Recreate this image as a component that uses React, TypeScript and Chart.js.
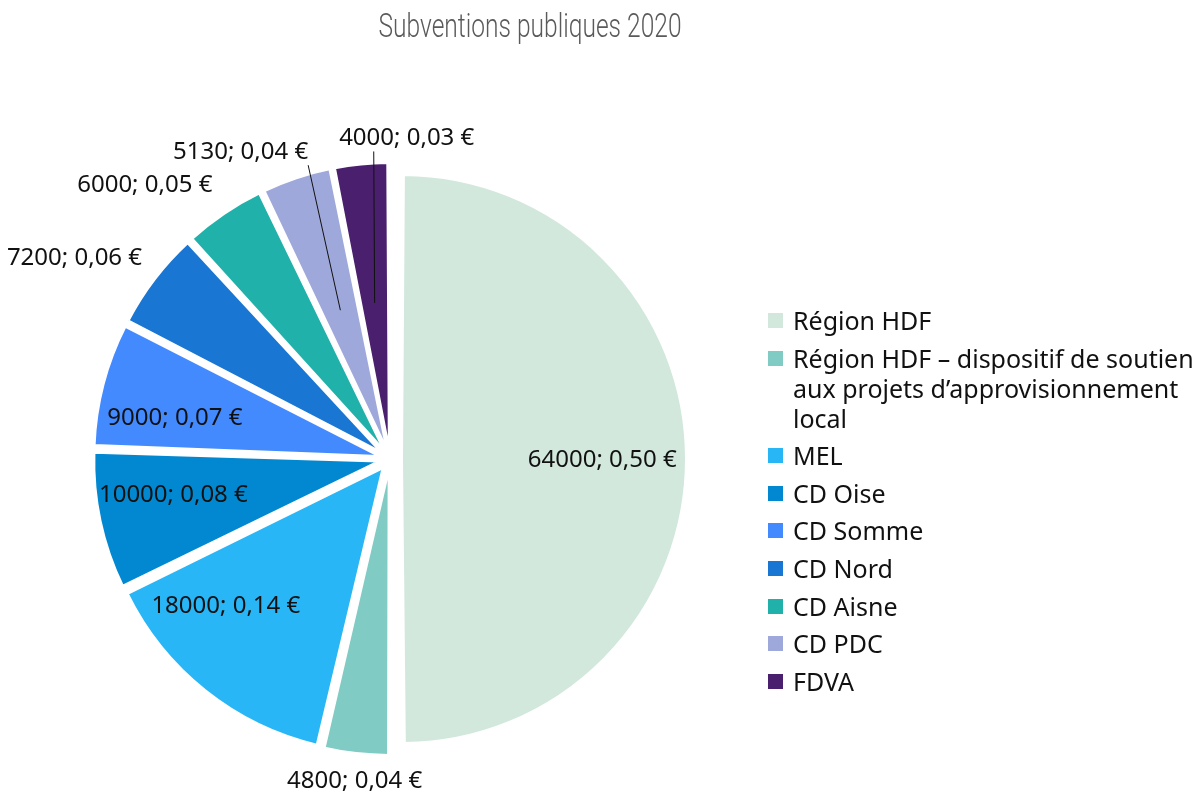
import React, { useEffect, useRef } from 'react';
import { Chart, registerables } from 'chart.js';

Chart.register(...registerables);

// ---------- data ----------
const chartTitle = 'Subventions publiques 2020';
const categories = [
  'Région HDF',
  'Région HDF – dispositif de soutien aux projets d’approvisionnement local',
  'MEL',
  'CD Oise',
  'CD Somme',
  'CD Nord',
  'CD Aisne',
  'CD PDC',
  'FDVA',
];
const amounts = [64000, 4800, 18000, 10000, 9000, 7200, 6000, 5130, 4000];
const sliceColors = [
  '#d2e8dc',
  '#80cbc4',
  '#29b6f6',
  '#0288d1',
  '#448aff',
  '#1976d2',
  '#20b2aa',
  '#9fa8da',
  '#4a1f6e',
];

// ---------- label layout (style, not data) ----------
const labelMode = ['inside', 'outside', 'inside', 'inside', 'inside', 'outside', 'outside', 'callout', 'callout'];
// inside: fraction of radius; outside / callout: pixels beyond the rim
const labelDist = [0.705, 13, 0.73, 0.73, 0.73, 16, 21, 9, 12];
const labelTurn = [0, 0, 10.5, 3.3, -3.5, 0, 0, 3, 2.7]; // degrees
const labelAnchorX = [0.5, 0.5, 0.5, 0.5, 0.5, 1, 1, 1, 0.256];
const labelAnchorY = [0.5, 0, 0.5, 0.5, 0.5, 1, 1, 1, 1];

const LABEL_SIZE = 24;
const LABEL_FONT = `${LABEL_SIZE}px 'Noto Sans', 'Open Sans', sans-serif`;
const BOX_H = 26;
const EXPLODE = 48; // chart.js offset (translation = offset / 4)

const total = amounts.reduce((a, b) => a + b, 0);
const labelText = (i: number) =>
  `${amounts[i]}; ${(amounts[i] / total).toFixed(2).replace('.', ',')} €`;

const arcCompensation = {
  id: 'arcCompensation',
  beforeDatasetsDraw(chart: any) {
    const meta = chart.getDatasetMeta(0);
    const ctrl = meta.controller as any;
    meta.data.forEach((arc: any) => {
      const off = (arc.options.offset || 0) / 4;
      const fix = 1 - Math.sin(Math.min(Math.PI, arc.circumference || 0));
      arc.outerRadius = ctrl.outerRadius - off * fix;
    });
  },
};

const titlePlugin = {
  id: 'titlePlugin',
  afterDraw(chart: any) {
    const ctx = chart.ctx as CanvasRenderingContext2D;
    ctx.save();
    ctx.font = "300 34px Roboto, 'DejaVu Sans Condensed', sans-serif";
    ctx.fillStyle = '#5a5a5a';
    ctx.textAlign = 'center';
    ctx.textBaseline = 'alphabetic';
    ctx.fillText(chartTitle, 530, 37, 303);
    ctx.restore();
  },
};

const sliceLabels = {
  id: 'sliceLabels',
  afterDatasetsDraw(chart: any) {
    const ctx = chart.ctx as CanvasRenderingContext2D;
    const meta = chart.getDatasetMeta(0);
    const R = (meta.controller as any).outerRadius;
    ctx.save();
    ctx.font = LABEL_FONT;
    ctx.fillStyle = '#111111';
    ctx.strokeStyle = '#111111';
    ctx.lineWidth = 1;
    ctx.textAlign = 'left';
    ctx.textBaseline = 'alphabetic';
    meta.data.forEach((arc: any, i: number) => {
      const shift = (arc.options.offset || 0) / 4;
      const mid = (arc.startAngle + arc.endAngle) / 2;
      const cx = arc.x + Math.cos(mid) * shift;
      const cy = arc.y + Math.sin(mid) * shift;
      const a = mid + (labelTurn[i] * Math.PI) / 180;
      const mode = labelMode[i];
      const dist = mode === 'inside' ? R * labelDist[i] : R + labelDist[i];
      const ax = cx + Math.cos(a) * dist;
      const ay = cy + Math.sin(a) * dist;
      const text = labelText(i);
      const w = ctx.measureText(text).width;
      let gapY = 0;
      if (mode === 'callout') {
        const sx = cx + Math.cos(mid) * R * 0.51;
        const sy = cy + Math.sin(mid) * R * 0.51;
        ctx.beginPath();
        ctx.moveTo(sx, sy);
        ctx.lineTo(ax, ay);
        ctx.stroke();
        gapY = 2;
      }
      const left = ax - labelAnchorX[i] * w;
      const centerY = ay - gapY + (0.5 - labelAnchorY[i]) * BOX_H;
      ctx.fillText(text, left, centerY + 0.357 * LABEL_SIZE);
    });
    ctx.restore();
  },
};

export default function App() {
  const canvasRef = useRef<HTMLCanvasElement | null>(null);

  useEffect(() => {
    document.body.style.margin = '0';
    document.body.style.overflow = 'hidden';
    const canvas = canvasRef.current;
    if (!canvas) return;
    const chart = new Chart(canvas, {
      type: 'pie',
      data: {
        labels: categories,
        datasets: [
          {
            data: amounts,
            backgroundColor: sliceColors,
            borderColor: '#ffffff',
            borderWidth: 2,
            offset: EXPLODE,
          },
        ],
      },
      options: {
        responsive: false,
        animation: false,
        events: [],
        layout: { padding: { left: 81, right: 501, top: 150, bottom: 26 } },
        plugins: {
          legend: { display: false },
          title: { display: false },
          tooltip: { enabled: false },
        },
      },
      plugins: [arcCompensation, sliceLabels, titlePlugin],
    });
    return () => chart.destroy();
  }, []);

  return (
    <div style={{ position: 'relative', width: 1200, height: 794, background: '#ffffff' }}>
      <canvas ref={canvasRef} width={1200} height={794} style={{ display: 'block' }} />
      <div
        style={{
          position: 'absolute',
          left: 768,
          top: 305,
          width: 432,
          fontFamily: "'Noto Sans', 'Open Sans', sans-serif",
          fontSize: 25,
          lineHeight: '30px',
          color: '#111111',
        }}
      >
        {categories.map((c, i) => (
          <div key={c} style={{ display: 'flex', alignItems: 'flex-start', marginBottom: 7.6 }}>
            <span
              style={{
                width: 15,
                height: 15,
                background: sliceColors[i],
                marginTop: 8,
                marginRight: 10,
                flex: '0 0 auto',
              }}
            />
            <span>{c}</span>
          </div>
        ))}
      </div>
    </div>
  );
}
